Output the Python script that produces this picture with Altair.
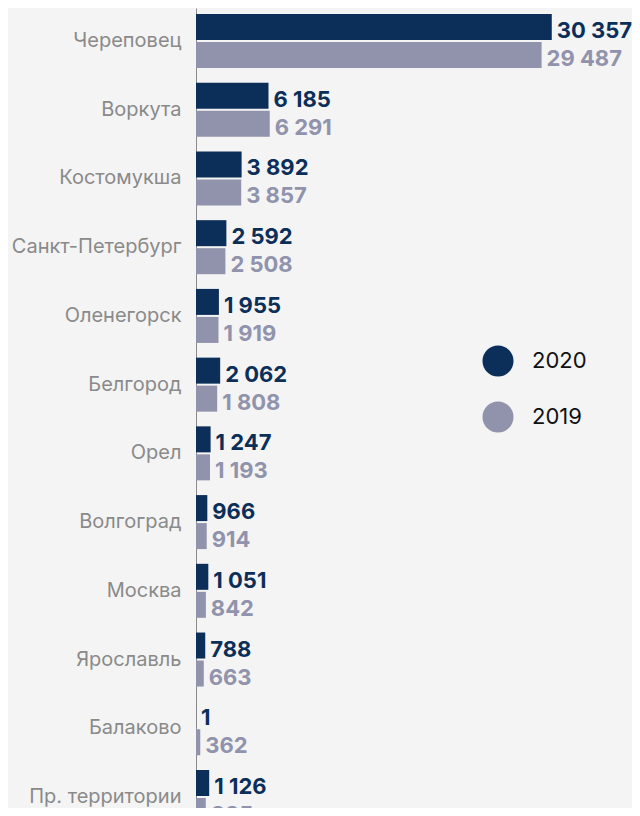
import altair as alt
import pandas as pd

cities = ["Череповец", "Воркута", "Костомукша", "Санкт-Петербург", "Оленегорск",
          "Белгород", "Орел", "Волгоград", "Москва", "Ярославль", "Балаково",
          "Пр. территории"]
v2020 = [30357, 6185, 3892, 2592, 1955, 2062, 1247, 966, 1051, 788, 1, 1126]
v2019 = [29487, 6291, 3857, 2508, 1919, 1808, 1193, 914, 842, 663, 362, 835]
years = ["2020", "2019"]
colors = ["#0c2f59", "#9093ab"]

rows = []
for c, a, b in zip(cities, v2020, v2019):
    for y, v in (("2020", a), ("2019", b)):
        rows.append({"city": c, "year": y, "value": v,
                     "label": f"{v:,}".replace(",", " ")})
df = pd.DataFrame(rows)

W = 436
H = 800
xmax = W / 0.01172

color_scale = alt.Scale(domain=years, range=colors)

base = alt.Chart(df).encode(
    y=alt.Y("city:N", sort=cities,
            scale=alt.Scale(range=[0, 822], paddingInner=0.214, paddingOuter=0.0873),
            axis=alt.Axis(title=None, ticks=False, labelFontSize=20,
                          labelColor="#8a8a8a", labelFont="Inter",
                          labelPadding=15, domainColor="#8c8c8c",
                          domainWidth=1, grid=False)),
    yOffset=alt.YOffset("year:N", sort=years,
                        scale=alt.Scale(paddingInner=0.0714)),
    x=alt.X("value:Q", scale=alt.Scale(domain=[0, xmax], nice=False, zero=True),
            axis=None),
)

bars = base.mark_bar().encode(
    color=alt.Color("year:N", sort=years, scale=color_scale,
                    legend=alt.Legend(title=None, orient="none", legendX=286,
                                      legendY=337, symbolType="circle",
                                      symbolSize=962, symbolStrokeWidth=0,
                                      symbolOpacity=1, labelFontSize=22,
                                      labelFont="Inter", labelColor="#111111",
                                      rowPadding=24, labelOffset=18))
)

text = base.mark_text(align="left", baseline="middle", dx=5, dy=4,
                      fontSize=22, fontWeight="bold", font="Inter").encode(
    text="label:N",
    color=alt.Color("year:N", sort=years, scale=color_scale, legend=None),
)

chart = (bars + text).properties(
    width=W, height=H,
    autosize=alt.AutoSizeParams(type="none"),
    padding={"left": 188, "top": 0, "right": 0, "bottom": 0},
    background="#f4f4f4",
).configure_view(strokeWidth=0)

chart.save("out.html", embed_options={"renderer": "svg", "actions": False})
